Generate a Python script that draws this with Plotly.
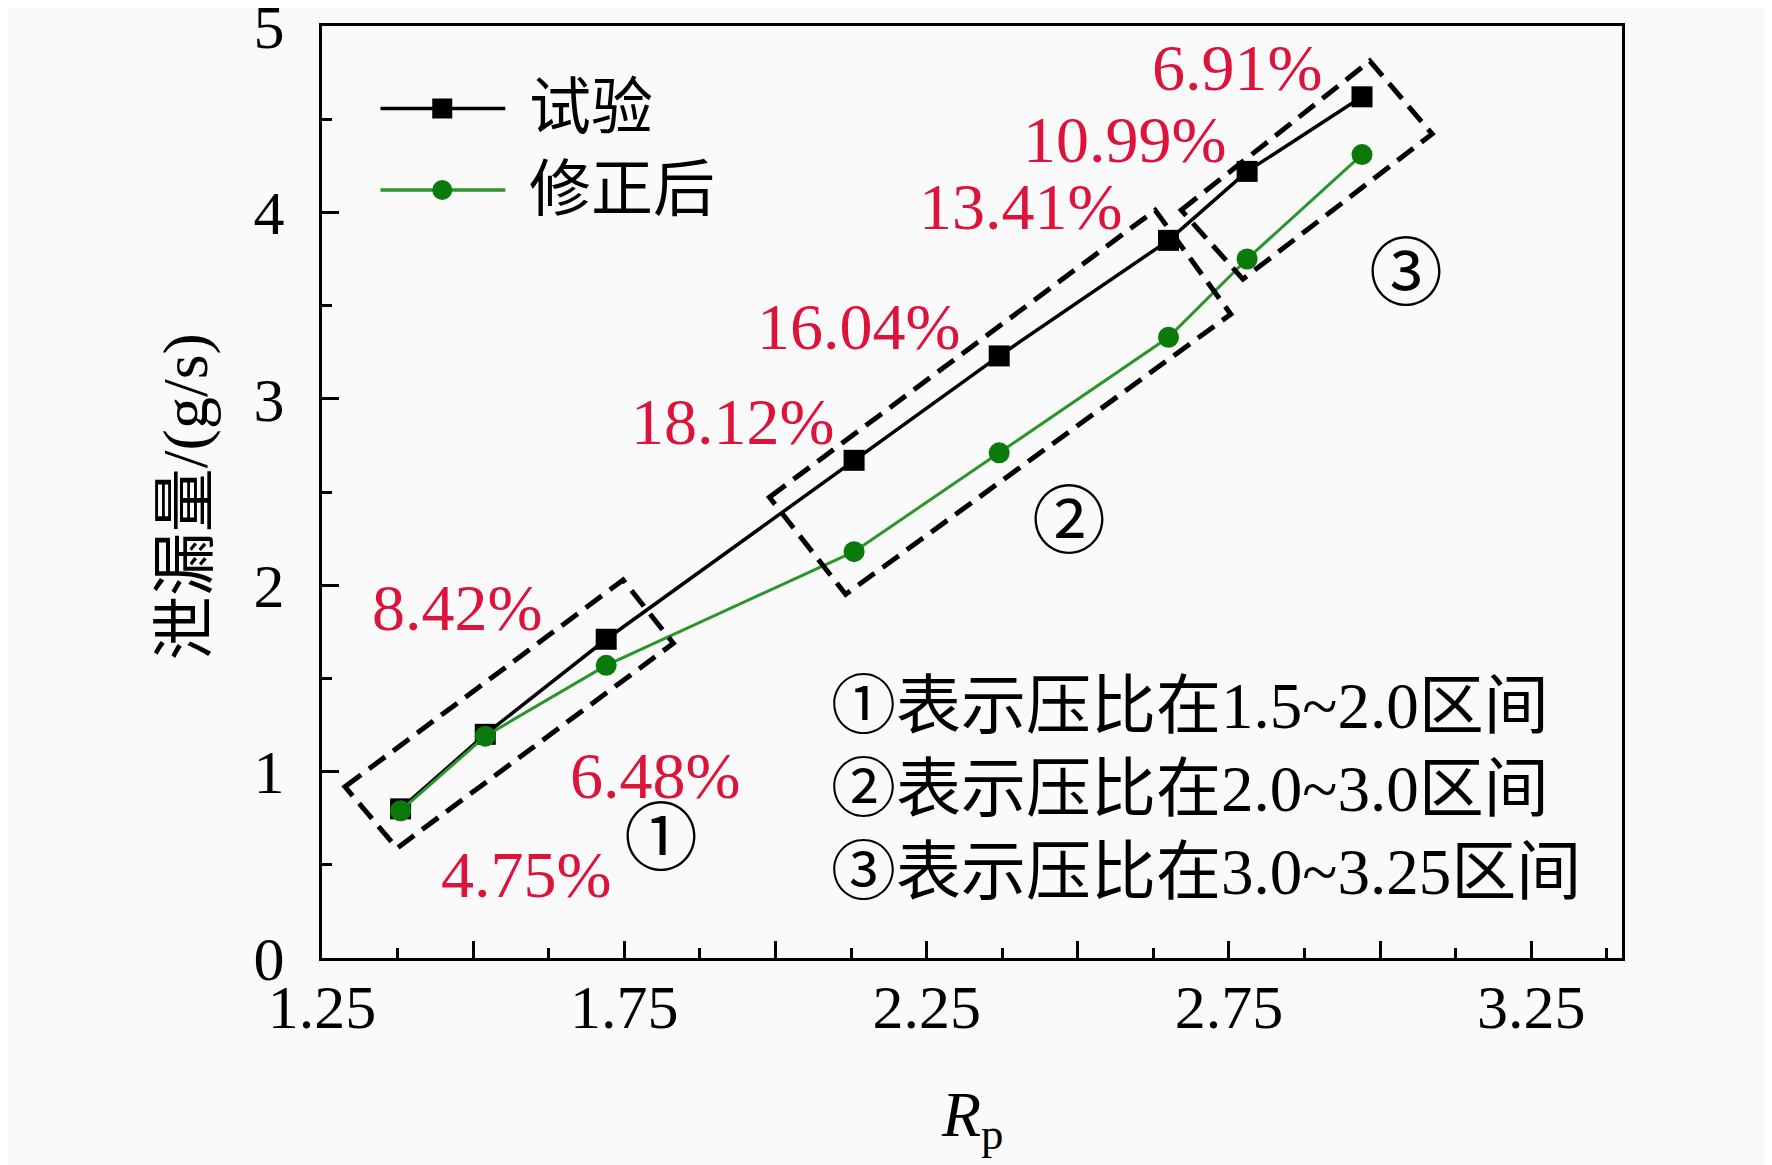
import plotly.graph_objects as go

# pressure ratio and leakage (g/s)
rp = [1.38, 1.52, 1.72, 2.13, 2.37, 2.65, 2.78, 2.97]
test = [0.80, 1.20, 1.71, 2.67, 3.23, 3.85, 4.22, 4.62]
corrected = [0.79, 1.19, 1.57, 2.18, 2.71, 3.33, 3.75, 4.31]

# relative deviation labels, one per point
dev_labels = ["4.75%", "6.48%", "8.42%", "18.12%", "16.04%", "13.41%", "10.99%", "6.91%"]
# where each label sits (data coords)
dev_pos = [(1.587, 0.45), (1.80, 0.98), (1.474, 1.88), (1.929, 2.88),
           (2.138, 3.39), (2.405, 4.03), (2.577, 4.39), (2.764, 4.78)]

region_marks = ["①", "②", "③"]
region_mark_pos = [(1.811, 0.64), (2.486, 2.34), (3.043, 3.67)]
region_notes = ["①表示压比在1.5~2.0区间", "②表示压比在2.0~3.0区间", "③表示压比在3.0~3.25区间"]

# dashed boxes around the three ranges (corner points, data coords)
boxes = [
    [(1.288, 0.919), (1.748, 2.028), (1.831, 1.688), (1.374, 0.589)],
    [(1.990, 2.472), (2.628, 4.012), (2.753, 3.454), (2.116, 1.951)],
    [(2.671, 4.012), (2.983, 4.812), (3.086, 4.421), (2.773, 3.642)],
]

FONT = "Liberation Serif, Times New Roman, Noto Sans CJK SC, serif"
RED = "#dc143c"
GREEN_LINE = "#2a952a"
GREEN_MK = "#0b7a0b"

fig = go.Figure()
fig.add_trace(go.Scatter(x=rp, y=test, mode="lines+markers", name="试验",
                         line=dict(color="black", width=3.5),
                         marker=dict(symbol="square", size=21, color="black"),
                         showlegend=False))
fig.add_trace(go.Scatter(x=rp, y=corrected, mode="lines+markers", name="修正后",
                         line=dict(color=GREEN_LINE, width=3),
                         marker=dict(symbol="circle", size=21, color=GREEN_MK),
                         showlegend=False))

for b in boxes:
    path = "M " + " L ".join(f"{x},{y}" for x, y in b) + " Z"
    fig.add_shape(type="path", path=path, xref="x", yref="y",
                  line=dict(color="black", width=5, dash="20px,10px"))

for txt, (x, y) in zip(dev_labels, dev_pos):
    fig.add_annotation(x=x, y=y, text=txt, showarrow=False,
                       font=dict(family=FONT, size=66, color=RED))

for txt, (x, y) in zip(region_marks, region_mark_pos):
    fig.add_annotation(x=x, y=y, text=txt, showarrow=False,
                       font=dict(family=FONT, size=74, color="black"))

for i, txt in enumerate(region_notes):
    fig.add_annotation(x=2.088, y=1.35 - i * 0.445, text=txt, showarrow=False,
                       xanchor="left", yanchor="middle",
                       font=dict(family=FONT, size=65, color="black"))

# hand-drawn legend (longer sample lines than plotly's own legend)
leg_y = [0.9115, 0.824]
for (name, sym, lc, mc), y in zip([("试验", "square", "black", "black"),
                                   ("修正后", "circle", GREEN_LINE, GREEN_MK)], leg_y):
    fig.add_shape(type="line", xref="paper", yref="paper", x0=0.045, x1=0.141, y0=y, y1=y,
                  line=dict(color=lc, width=3.5))
    kind = "rect" if sym == "square" else "circle"
    fig.add_shape(type=kind, xref="paper", yref="paper", xsizemode="pixel", ysizemode="pixel",
                  xanchor=0.0925, yanchor=y, x0=-10, x1=10, y0=-10, y1=10,
                  fillcolor=mc, line=dict(color=mc, width=0))
    fig.add_annotation(xref="paper", yref="paper", x=0.158, y=y, text=name, showarrow=False,
                       xanchor="left", yanchor="middle",
                       font=dict(family=FONT, size=62, color="black"))

# axis titles
fig.add_annotation(xref="paper", yref="paper", x=-0.105, y=0.495, text="泄漏量/(g/s)",
                   textangle=-90, showarrow=False, xanchor="center", yanchor="middle",
                   font=dict(family=FONT, size=64, color="black"))
fig.add_annotation(xref="paper", yref="paper", x=0.5, y=-0.173, text="<i>R</i><sub>p</sub>",
                   showarrow=False, xanchor="center", yanchor="middle",
                   font=dict(family=FONT, size=64, color="black"))

xt = [1.25 + 0.25 * i for i in range(9)]
fig.update_xaxes(range=[1.25, 3.40], tickvals=xt,
                 ticktext=[f"{v:.2f}" if i % 2 == 0 else "" for i, v in enumerate(xt)],
                 ticks="inside", ticklen=17, tickwidth=3, tickcolor="black",
                 minor=dict(tick0=1.25, dtick=0.125, ticks="inside", ticklen=10, tickwidth=3, tickcolor="black"),
                 showline=True, linewidth=3, linecolor="black", mirror=True,
                 showgrid=False, zeroline=False, ticklabelstandoff=-7,
                 ticklabeloverflow="allow", automargin=False,
                 tickfont=dict(family=FONT, size=62, color="black"))
fig.update_yaxes(range=[0, 5], dtick=1, tick0=0,
                 ticks="inside", ticklen=17, tickwidth=3, tickcolor="black",
                 minor=dict(dtick=0.5, ticks="inside", ticklen=10, tickwidth=3, tickcolor="black"),
                 showline=True, linewidth=3, linecolor="black", mirror=True,
                 showgrid=False, zeroline=False, ticklabelstandoff=22,
                 ticklabeloverflow="allow", automargin=False,
                 tickfont=dict(family=FONT, size=62, color="black"))

# page body adds an 8px offset, so the figure is 8px smaller on each side
fig.update_layout(width=1764, height=1157,
                  margin=dict(l=314, r=150, t=18, b=207),
                  paper_bgcolor="#fafafa", plot_bgcolor="#fafafa",
                  font=dict(family=FONT, color="black"))

fig.write_html("out.html")
